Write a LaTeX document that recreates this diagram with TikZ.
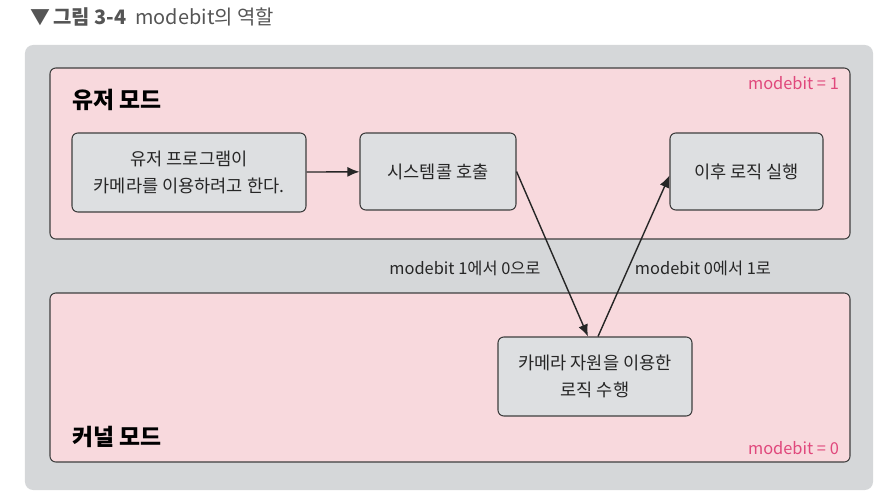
\documentclass[tikz,border=0pt]{standalone}
\usepackage{fontspec}
\setmainfont{Noto Sans CJK KR}
\usepackage{xcolor}
\usetikzlibrary{arrows.meta,positioning}

\definecolor{outergray}{HTML}{D5D7D9}
\definecolor{panelpink}{HTML}{F8D9DD}
\definecolor{boxgray}{HTML}{DDDFE1}
\definecolor{edgegray}{HTML}{3E3E3E}
\definecolor{bitpink}{HTML}{E0487C}
\definecolor{titlegray}{HTML}{555555}

\begin{document}
\begin{tikzpicture}[x=0.03cm, y=-0.03cm,
  panel/.style={draw=edgegray, fill=panelpink, line width=0.9pt, rounded corners=5pt,
                minimum width=24cm},
  blk/.style={draw=edgegray, fill=boxgray, line width=0.9pt, rounded corners=5pt,
              align=center, font=\fontsize{15}{23}\selectfont, text=black!85},
  modetxt/.style={font=\fontsize{19.5}{22}\selectfont\bfseries, anchor=west},
  bittxt/.style={font=\fontsize{14}{16}\selectfont, text=bitpink, anchor=east},
  lbl/.style={font=\fontsize{14}{16}\selectfont, text=black!85},
  arr/.style={-{Latex[length=3.6mm, width=3mm]}, line width=1.2pt, draw=black!85}]
\useasboundingbox (0,0) rectangle (893,497);
% caption
\node[anchor=west, text=titlegray, font=\fontsize{17}{20}\selectfont] (cap) at (26,17)
  {▼\,\textbf{그림 3-4}\ \ modebit의 역할};
% frames
\node[draw=none, fill=outergray, rounded corners=7pt, minimum width=25.44cm,
      minimum height=13.35cm] (outer) at (449,267.5) {};
\node[panel, minimum height=5.13cm] (user) at (450,153.5) {};
\node[panel, minimum height=5.07cm] (kern) at (450,377.5) {};
\node[modetxt] (ut) at (68,100) {유저 모드};
\node[modetxt] (kt) at (68,437) {커널 모드};
\node[bittxt] (ub) at (843,83) {modebit = 1};
\node[bittxt] (kb) at (843,448) {modebit = 0};
% steps
\node[blk, minimum width=7.02cm, minimum height=2.37cm] (prog) at (189,172.5)
  {유저 프로그램이\\카메라를 이용하려고 한다.};
\node[blk, minimum width=4.68cm, minimum height=2.31cm] (call) at (438,171.5) {시스템콜 호출};
\node[blk, minimum width=4.59cm, minimum height=2.31cm] (next) at (746.5,171.5) {이후 로직 실행};
\node[blk, minimum width=5.82cm, minimum height=2.37cm] (cam) at (595,376.5)
  {카메라 자원을 이용한\\로직 수행};
\node[lbl] (down) at (465,268) {modebit 1에서 0으로};
\node[lbl] (up) at (703,268) {modebit 0에서 1로};
\draw[arr] (prog) -- (call);
\draw[arr] (call.east) -- ([xshift=-0.21cm]cam.north);
\draw[arr] ([xshift=0.09cm]cam.north) -- ([yshift=-0.12cm]next.west);
\end{tikzpicture}
\end{document}
